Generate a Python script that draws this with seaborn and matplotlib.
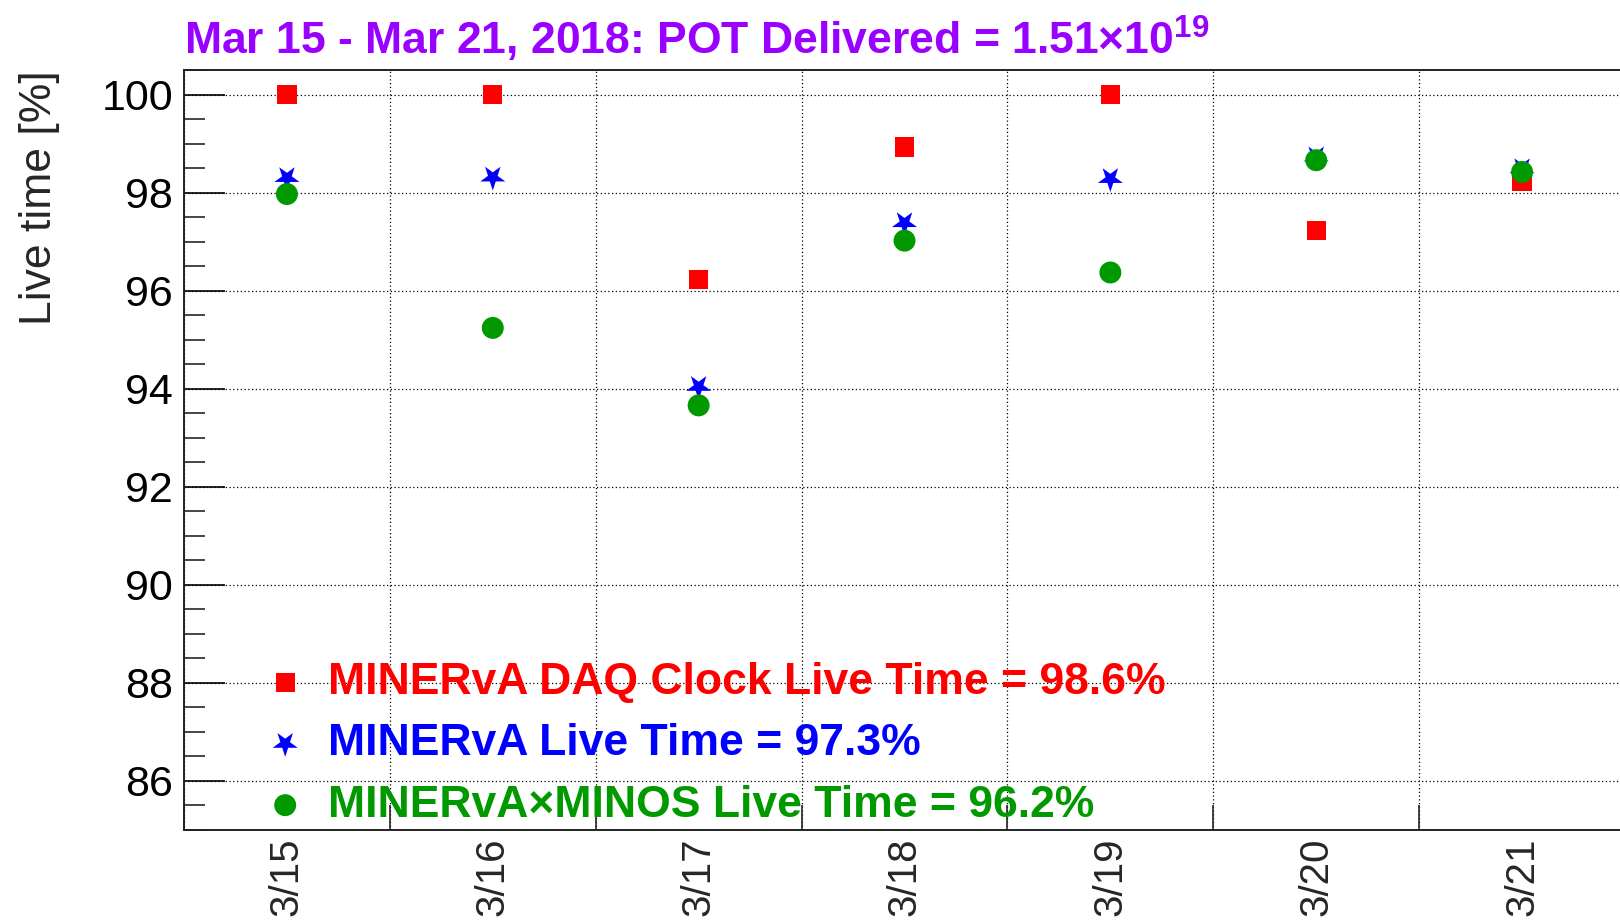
import numpy as np
import pandas as pd
import matplotlib.pyplot as plt
import seaborn as sns
from matplotlib.markers import MarkerStyle
from matplotlib.transforms import Affine2D
from matplotlib.ticker import MultipleLocator

# Dias de la semana
dias = ["3/15", "3/16", "3/17", "3/18", "3/19", "3/20", "3/21"]

# Live time por dia [%]
daq_clock = [100.0, 100.0, 96.22, 98.93, 100.0, 97.23, 98.22]
minerva = [98.30, 98.31, 94.04, 97.38, 98.28, 98.72, 98.48]
minerva_minos = [97.97, 95.24, 93.66, 97.02, 96.37, 98.66, 98.42]

etiquetas = ["MINERvA DAQ Clock Live Time = 98.6%",
             "MINERvA Live Time = 97.3%",
             "MINERvA\u00d7MINOS Live Time = 96.2%"]
titulo = "Mar 15 - Mar 21, 2018: POT Delivered = 1.51\u00d710$^{19}$"

colores = ["#ff0000", "#0000ff", "#009900"]

sns.set_theme(style="white")
plt.rcParams['font.family'] = ['Liberation Sans', 'DejaVu Sans']
plt.rcParams['mathtext.fontset'] = 'custom'
plt.rcParams['mathtext.rm'] = 'Liberation Sans:bold'
plt.rcParams['mathtext.it'] = 'Liberation Sans:bold'
plt.rcParams['mathtext.bf'] = 'Liberation Sans:bold'

df = pd.DataFrame({"dia": dias, "daq": daq_clock, "minerva": minerva, "minos": minerva_minos})

fig = plt.figure(figsize=(16.2, 9.24), dpi=100)
ax = fig.add_axes([184/1620, 1 - 830/924, 1441/1620, 760/924])

# Estrella invertida como en ROOT
estrella = MarkerStyle("*", transform=Affine2D().rotate_deg(180))

sns.scatterplot(data=df, x="dia", y="daq", marker="s", s=190, color=colores[0],
                linewidth=0, edgecolor="none", label=etiquetas[0], ax=ax, zorder=3)
sns.scatterplot(data=df, x="dia", y="minerva", marker=estrella, s=360, color=colores[1],
                linewidth=0, edgecolor="none", label=etiquetas[1], ax=ax, zorder=3)
sns.scatterplot(data=df, x="dia", y="minos", marker="o", s=250, color=colores[2],
                linewidth=0, edgecolor="none", label=etiquetas[2], ax=ax, zorder=3)

ax.set_xlim(-0.5, len(dias) - 0.5)
ax.set_ylim(85.0, 100.5)

# Ejes estilo ROOT
ax.yaxis.set_major_locator(MultipleLocator(2))
ax.yaxis.set_minor_locator(MultipleLocator(0.5))
ax.set_xticks(range(len(dias)), labels=dias)
ax.set_xticks(np.arange(len(dias) + 1) - 0.5, minor=True)

ax.tick_params(axis='y', which='major', direction='in', length=29.5, width=1.2,
               pad=8, labelsize=31, colors='black', left=True)
ax.tick_params(axis='y', which='minor', direction='in', length=15, width=1.2, left=True)
ax.tick_params(axis='x', which='major', length=0, pad=5.5, labelsize=29, labelrotation=90)
ax.tick_params(axis='x', which='minor', direction='in', length=18, width=1.2, bottom=True)

ax.grid(False)
ax.yaxis.grid(True, which='major', color='black', linestyle=(0, (1, 2)), linewidth=0.9)
ax.xaxis.grid(True, which='minor', color='black', linestyle=(0, (1, 2)), linewidth=0.9)

for lado in ax.spines.values():
    lado.set_color('#222222')
    lado.set_linewidth(1.4)

ax.set_xlabel("")
ax.set_ylabel("Live time [%]", fontsize=32, loc='top')
ax.yaxis.set_label_coords(-0.086, 1.0)

ax.set_title(titulo, loc='left', color='#9900ff', fontsize=32, fontweight='bold', pad=11)

ax.legend(loc='lower left', bbox_to_anchor=(0.0548, 0.0055), frameon=False,
          prop={'weight': 'bold', 'size': 32}, labelcolor=colores, scatterpoints=1,
          handlelength=1.0, handletextpad=0.47, labelspacing=0.46,
          borderpad=0, borderaxespad=0)

plt.savefig("out.png", dpi=100)
